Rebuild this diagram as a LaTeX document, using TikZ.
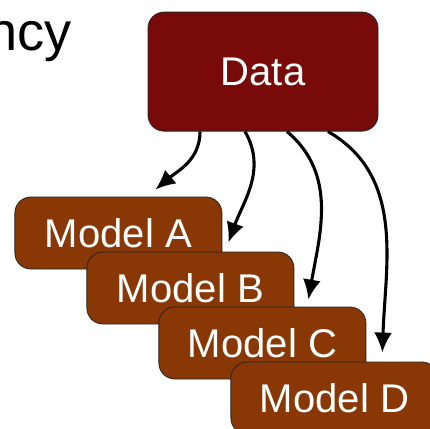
\documentclass[tikz,border=0pt]{standalone}
\usepackage{fontspec}
\setmainfont{Liberation Sans}
\usetikzlibrary{arrows.meta}

\definecolor{datared}{HTML}{790A0A}
\definecolor{modelbrown}{HTML}{8A3706}

\tikzset{
    box/.style={draw=black!85, line width=0.6pt, rounded corners=0.4cm,
        text=white, font=\fontsize{28.5}{34}\selectfont, inner sep=0pt},
    databox/.style={box, fill=datared, minimum width=5.75cm, minimum height=2.975cm},
    modelbox/.style={box, fill=modelbrown, minimum width=5.175cm, minimum height=1.8cm},
    feed/.style={->, line width=2.2pt}
}

\begin{document}
\begin{tikzpicture}[>={Latex[length=0.5cm,width=0.45cm]}]
    \clip (0,0) rectangle (10.75,10.7);

    \node[anchor=base east, inner sep=0pt, font=\fontsize{38.5}{46}\selectfont]
        (title) at (1.8,9.45) {ncy};

    \node[databox] (data) at (6.575,8.91) {Data};

    % stacked models, each one step right and down
    \foreach \m [count=\i] in {A,B,C,D}
        \node[modelbox] (m\m) at ({2.96+1.8*(\i-1)},{4.875-1.375*(\i-1)}) {Model \m};

    \foreach \m/\sx/\tx/\ty/\o/\n in {A/-1.575/-1.675/0.175/-90/40,
                                      B/-0.45/-1.65/0.225/-60/70,
                                      C/0.6/-1.45/0.175/-40/80,
                                      D/1.625/-1.4/0.225/-30/88}
    {
        \coordinate (t\m) at ([shift={(\tx,\ty)}]m\m.north east);
        \draw[feed] ([xshift=\sx cm]data.south) to[out=\o,in=\n] (t\m);
    }
\end{tikzpicture}
\end{document}
